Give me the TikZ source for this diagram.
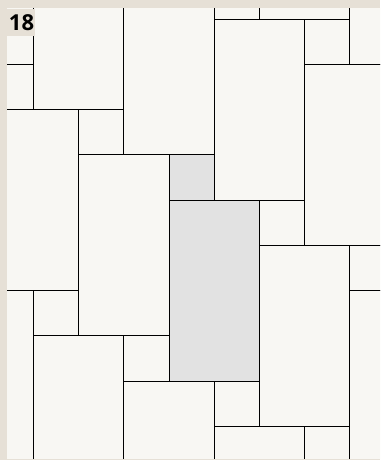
\documentclass[tikz,border=0pt]{standalone}
\usepackage{fontspec}
\setmainfont{Open Sans}
\definecolor{framecol}{HTML}{E6E0D6}
\definecolor{tilecol}{HTML}{F8F7F3}
\definecolor{hlcol}{HTML}{E2E2E2}
\tikzset{
  tilebox/.style={draw=black, line width=0.9pt, fill=tilecol},
  hlbox/.style={draw=black, line width=0.9pt, fill=hlcol},
  numlabel/.style={font=\fontsize{22}{22}\selectfont\bfseries, text=black, inner sep=0pt}
}
\begin{document}
\begin{tikzpicture}[x=1pt,y=-1pt]
\fill[framecol] (0,0) rectangle (380,460);
\useasboundingbox (0,0) rectangle (380,460);
\begin{scope}
\clip (7,9) rectangle (380,458);
\fill[tilecol] (7,9) rectangle (380,458);
\begin{scope}[shift={(33.5,19)}, x=45.2pt, y=-45.25pt]
\foreach \i/\j in {-2/-3,0/-2,2/-1,4/0,6/1,7/-3,5/-4,-1/2,1/3,5/5,7/6,-2/6,0/7,2/8,4/9,6/10}
  \draw[tilebox] (\i,\j) rectangle ++(2,4);
\foreach \i/\j in {-1/1,1/2,5/4,7/5,4/-1,6/0,0/6,2/7,4/8,6/9}
  \draw[tilebox] (\i,\j) rectangle ++(1,1);
\draw[hlbox] (3,4) rectangle ++(2,4);
\draw[hlbox] (3,3) rectangle ++(1,1);
\end{scope}
\end{scope}
\fill[framecol] (7,9) rectangle (35,36);
\node[numlabel] (lbl) at (21.5,23) {18};
\end{tikzpicture}
\end{document}
